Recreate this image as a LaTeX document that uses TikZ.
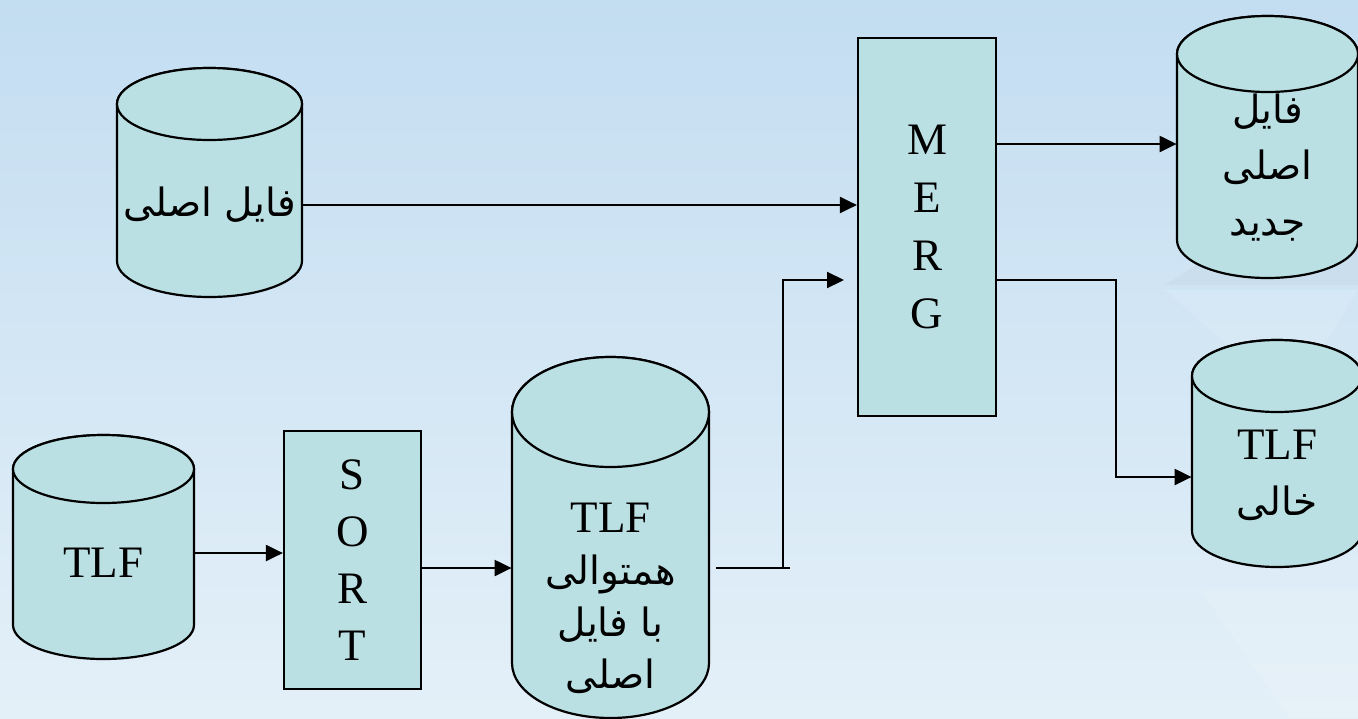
\documentclass[tikz,border=0pt]{standalone}
\usepackage{fontspec}
\setmainfont{Liberation Serif}
\newfontfamily\arabicfont[Script=Arabic]{DejaVu Sans}
\TeXXeTstate=1
\usetikzlibrary{arrows.meta,calc}
\definecolor{bgtop}{HTML}{C3DDF1}
\definecolor{bgbot}{HTML}{E4F0F8}
\definecolor{cylfill}{HTML}{BBE0E3}
\newcommand\fa[1]{{\arabicfont\fontsize{19.5}{26}\selectfont\beginR #1\endR}}
\newcommand\drawcyl[5]{%
  \pgfmathsetmacro\cylrx{(#2-#1)/4}%
  \pgfmathsetmacro\cylry{#5/2}%
  \filldraw[cylst] (#1,#3) -- (#1,#4)
    arc[start angle=180,end angle=360,x radius=\cylrx pt,y radius=\cylry pt]
    -- (#2,#3)
    arc[start angle=0,end angle=180,x radius=\cylrx pt,y radius=\cylry pt] -- cycle;
  \draw[cylst] ({(#1+#2)/2},#3) ellipse[x radius=\cylrx pt,y radius=\cylry pt];
}
\tikzset{
  cylst/.style={fill=cylfill,draw=black,line width=1.1pt},
  boxst/.style={draw=black,fill=cylfill,line width=1.1pt,align=center,inner sep=0pt,
    font=\fontsize{22.5}{29}\selectfont},
  txt/.style={inner sep=0pt,align=center,font=\fontsize{22.5}{27}\selectfont},
  ln/.style={line width=1.1pt,draw=black},
  arr/.style={ln,-{Triangle[length=8.5pt,width=8pt]}},
}
\begin{document}
\begin{tikzpicture}[x=0.5pt,y=-0.5pt]
\useasboundingbox (0,0) rectangle (1358,718);
\fill[top color=bgtop,bottom color=bgbot] (0,0) rectangle (1358,718);
% faint template decoration
\fill[white,opacity=0.12] (1165,290) -- (1358,290) -- (1290,400) -- cycle;
\fill[white,opacity=0.12] (1200,590) -- (1358,590) -- (1358,718) -- (1290,718) -- cycle;
\fill[gray,opacity=0.05] (1165,285) -- (1250,230) -- (1358,230) -- (1358,285) -- cycle;

% cylinders
\drawcyl{117}{302}{104}{261}{36}
\drawcyl{13}{194}{469}{625}{34}
\drawcyl{512}{709}{412}{663}{55}
\drawcyl{1177}{1358}{54}{240}{38}
\drawcyl{1192}{1362}{376}{531}{36}

% texts in cylinders
\node[txt,minimum width=92.5pt] (c1) at (209.5,205) {\fa{فایل اصلی}};
\node[txt,minimum width=90.5pt] (c2) at (103.5,563) {TLF};
\node[txt,minimum width=98.5pt,font=\fontsize{22.5}{26}\selectfont] (c3) at (610.5,598)
  {TLF\\\fa{همتوالی}\\\fa{با فایل}\\\fa{اصلی}};
\node[txt,minimum width=90.5pt,font=\fontsize{22.5}{28}\selectfont] (c4) at (1267.5,168)
  {\fa{فایل}\\\fa{اصلی}\\\fa{جدید}};
\node[txt,minimum width=85pt,font=\fontsize{22.5}{28}\selectfont] (c5) at (1277,475)
  {TLF\\\fa{خالی}};

% boxes
\node[boxst,minimum width=69pt,minimum height=189pt] (merg) at (927,227) {M\\E\\R\\G};
\node[boxst,minimum width=68.5pt,minimum height=129pt,font=\fontsize{22.5}{28.5}\selectfont] (sort) at (352.5,560) {S\\O\\R\\T};

% bend points
\coordinate (b1) at (783,568);
\coordinate (b2) at (783,280);
\coordinate (b3) at (844,280);
\coordinate (b4) at (790,568);
\coordinate (b6) at (1116,477);

% connectors
\draw[arr] (c1.east) -- (c1.east -| merg.west);
\draw[arr] ([yshift=5pt]c2.east) -- ([yshift=5pt]c2.east -| sort.west);
\draw[arr] (sort.east |- b1) -- (c3.west |- b1);
\draw[ln] ([xshift=3.5pt]c3.east |- b1) -- (b4);
\draw[arr] (b1) -- (b2) -- (b3);
\draw[arr] ([yshift=41.5pt]merg.east) -- ([yshift=41.5pt]merg.east -| c4.west);
\draw[arr] ([yshift=-26.5pt]merg.east) -| (b6) -- (c5.west |- b6);
\end{tikzpicture}
\end{document}
